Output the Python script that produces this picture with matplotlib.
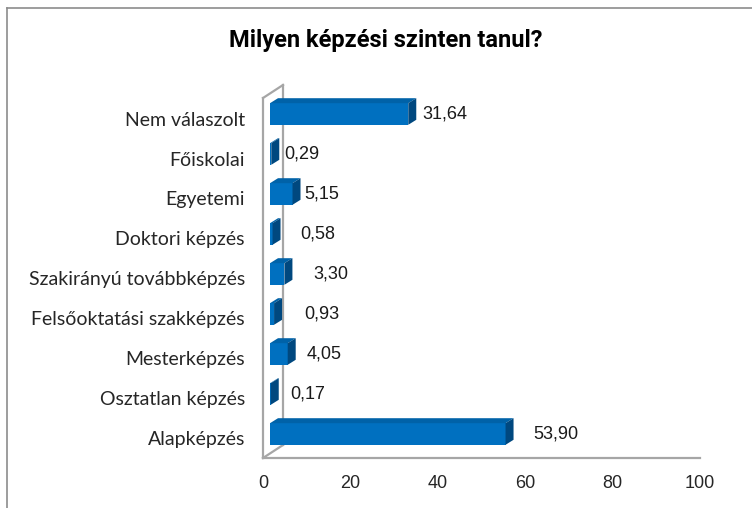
import matplotlib
matplotlib.use("Agg")
import matplotlib.pyplot as plt
from matplotlib.patches import Polygon
from matplotlib.lines import Line2D


TITLE = "Milyen képzési szinten tanul?"

# Bottom to top, as drawn on the chart.
CATEGORIES = [
    "Alapképzés",
    "Osztatlan képzés",
    "Mesterképzés",
    "Felsőoktatási szakképzés",
    "Szakirányú továbbképzés",
    "Doktori képzés",
    "Egyetemi",
    "Főiskolai",
    "Nem válaszolt",
]
VALUES = [53.90, 0.17, 4.05, 0.93, 3.30, 0.58, 5.15, 0.29, 31.64]
VALUE_LABELS = ["53,90", "0,17", "4,05", "0,93", "3,30", "0,58", "5,15", "0,29", "31,64"]
X_TICKS = [0, 20, 40, 60, 80, 100]

# Gap (pixels) between the end of each bar and its label, as placed in the original.
LABEL_GAPS = [20, 12, 11, 22, 21, 20, 4, 5, 6]

FRONT_COLOR = "#0070C0"
TOP_COLOR = "#0062A8"
SIDE_COLOR = "#00487F"
WALL_COLOR = "#A6A6A6"

DPI = 100
FIG_W, FIG_H = 752, 508
# Plot area (front plane) in pixels from the top-left corner.
AX_LEFT, AX_RIGHT = 263, 700
AX_TOP, AX_BOTTOM = 84, 458
Y_BOTTOM, Y_TOP = -0.4875, 8.8625


def main():
    figure = plt.figure(figsize=(FIG_W / DPI, FIG_H / DPI), dpi=DPI)
    axis = figure.add_axes([
        AX_LEFT / FIG_W,
        1 - AX_BOTTOM / FIG_H,
        (AX_RIGHT - AX_LEFT) / FIG_W,
        (AX_BOTTOM - AX_TOP) / FIG_H,
    ])
    axis.set_xlim(0, 100)
    axis.set_ylim(Y_BOTTOM, Y_TOP)
    axis.set_facecolor("none")
    for spine in axis.spines.values():
        spine.set_visible(False)

    # pixels -> data units
    px_x = 100 / (AX_RIGHT - AX_LEFT)
    px_y = (Y_TOP - Y_BOTTOM) / (AX_BOTTOM - AX_TOP)

    # 3D wall and floor outline
    wall_dx, wall_dy = 20 * px_x, 13 * px_y
    front_top = Y_TOP - 14 * px_y
    wall_lines = [
        ([0, 0], [Y_BOTTOM, front_top]),
        ([0, wall_dx], [front_top, front_top + wall_dy]),
        ([wall_dx, wall_dx], [Y_BOTTOM + wall_dy, front_top + wall_dy]),
        ([0, wall_dx], [Y_BOTTOM, Y_BOTTOM + wall_dy]),
        ([0, 100], [Y_BOTTOM, Y_BOTTOM]),
    ]
    for xs, ys in wall_lines:
        axis.plot(xs, ys, color=WALL_COLOR, linewidth=1.6, clip_on=False, zorder=1)

    # 3D bars
    front_dx, front_dy = 7 * px_x, 4.5 * px_y
    depth_dx, depth_dy = 8 * px_x, 5 * px_y
    bar_height = 0.54

    for index, (value, text, gap) in enumerate(zip(VALUES, VALUE_LABELS, LABEL_GAPS)):
        y_center = index + front_dy
        y_low = y_center - bar_height / 2
        y_high = y_center + bar_height / 2
        x_start = front_dx
        x_end = front_dx + value

        front = Polygon(
            [(x_start, y_low), (x_end, y_low), (x_end, y_high), (x_start, y_high)],
            closed=True, facecolor=FRONT_COLOR, edgecolor="none", zorder=3,
        )
        top = Polygon(
            [(x_start, y_high), (x_end, y_high),
             (x_end + depth_dx, y_high + depth_dy), (x_start + depth_dx, y_high + depth_dy)],
            closed=True, facecolor=TOP_COLOR, edgecolor="none", zorder=3,
        )
        side = Polygon(
            [(x_end, y_low), (x_end + depth_dx, y_low + depth_dy),
             (x_end + depth_dx, y_high + depth_dy), (x_end, y_high)],
            closed=True, facecolor=SIDE_COLOR, edgecolor="none", zorder=3,
        )
        for patch in (front, top, side):
            patch.set_clip_on(False)
            axis.add_patch(patch)

        axis.text(
            x_end + depth_dx + gap * px_x,
            y_center,
            text,
            ha="left",
            va="center",
            fontsize=13,
            family="Liberation Sans",
            color="#1a1a1a",
        )

    axis.set_yticks(range(len(CATEGORIES)))
    axis.set_yticklabels(CATEGORIES, family="Lato", fontsize=14, color="#262626")
    axis.tick_params(axis="y", length=0, pad=13)

    axis.set_xticks(X_TICKS)
    axis.set_xticklabels([str(t) for t in X_TICKS], family="Liberation Sans", fontsize=13, color="#262626")
    axis.tick_params(axis="x", length=0, pad=12)

    figure.text(
        386 / FIG_W, 1 - 40 / FIG_H, TITLE,
        ha="center", va="center", fontsize=17, fontweight="bold",
        family="Roboto", color="#000000",
    )

    # outer chart border (only left and top edges are visible)
    figure.add_artist(Line2D([7 / FIG_W, 7 / FIG_W], [0, 1 - 8 / FIG_H],
                             transform=figure.transFigure, color="#8C8C8C", linewidth=1.2))
    figure.add_artist(Line2D([7 / FIG_W, 1], [1 - 8 / FIG_H, 1 - 8 / FIG_H],
                             transform=figure.transFigure, color="#8C8C8C", linewidth=1.2))

    figure.savefig("out.png", dpi=DPI)
    plt.close(figure)


if __name__ == "__main__":
    main()
